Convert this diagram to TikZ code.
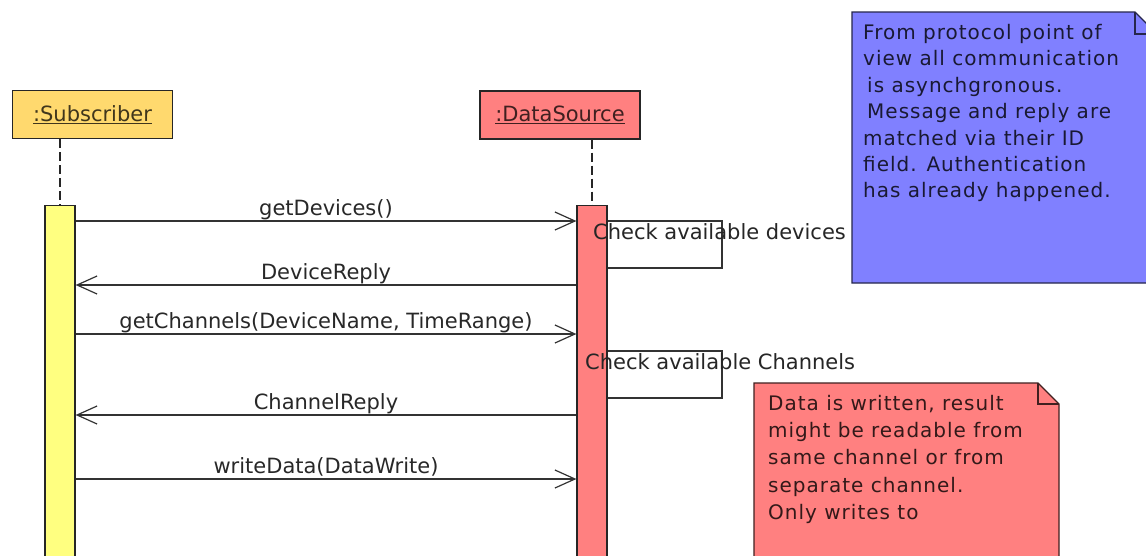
\documentclass[tikz,border=0pt]{standalone}
\usepackage{fontspec}
\setmainfont{DejaVu Sans}
\newfontfamily\notefont[LetterSpace=5]{DejaVu Sans}
\usetikzlibrary{arrows.meta}
\definecolor{subhead}{RGB}{255,217,110}
\definecolor{subbar}{RGB}{255,255,128}
\definecolor{dsred}{RGB}{255,128,128}
\definecolor{noteblue}{RGB}{128,128,255}
\definecolor{lblgray}{RGB}{40,40,40}
\begin{document}
\begin{tikzpicture}[x=1pt,y=-1pt,
  head/.style={draw=black!85, line width=1.2pt, minimum width=160pt, minimum height=48pt, inner sep=0pt, font=\fontsize{21}{24}\selectfont},
  bar/.style={draw=black!85, line width=1.2pt, minimum width=30pt, minimum height=400pt, inner sep=0pt, anchor=north},
  life/.style={line width=1.2pt, draw=black!85, dash pattern=on 9pt off 4pt},
  msg/.style={line width=1.2pt, draw=black!80, -{Straight Barb[length=20pt,width=18pt,line width=1.2pt]}},
  loopline/.style={line width=1.2pt, draw=black!80},
  lbl/.style={font=\fontsize{21}{24}\selectfont, text=lblgray, anchor=base, inner sep=0pt, yshift=5.5pt},
  chk/.style={font=\fontsize{21}{24}\selectfont, text=black!85, anchor=base west, inner sep=0pt},
  notebox/.style={line width=1.2pt, line join=miter},
  notetext/.style={anchor=north west, inner sep=0pt, align=left}
]
\fill[white] (0,0) rectangle (1146,555);
\useasboundingbox (0,0) rectangle (1146,555);
\clip (0,0) rectangle (1146,555);

% blue note
\draw[notebox, fill=noteblue, draw=noteblue!30!black] (852,12) -- (1135,12) -- (1157,34) -- (1157,283) -- (852,283) -- cycle;
\draw[notebox, draw=noteblue!30!black] (1135,12) -- (1135,34) -- (1157,34);
\node[notetext, text=noteblue!20!black, font=\notefont\fontsize{20}{26.4}\selectfont] (n1) at (863,24)
  {From protocol point of\\view all communication\\\hspace{4pt}is asynchgronous.\\\hspace{4pt}Message and reply are\\matched via their ID\\field. Authentication\\has already happened.};

% red note
\draw[notebox, fill=dsred, draw=dsred!25!black] (754,383) -- (1038,383) -- (1059,404) -- (1059,570) -- (754,570) -- cycle;
\draw[notebox, draw=dsred!25!black] (1038,383) -- (1038,404) -- (1059,404);
\node[notetext, text=dsred!20!black, font=\notefont\fontsize{20}{27.2}\selectfont] (n2) at (768,395)
  {Data is written, result\\might be readable from\\same channel or from\\separate channel.\\Only writes to};

% heads
\node[head, fill=subhead, text=subhead!25!black] (sub) at (92.5,114.5) {\underline{:Subscriber}};
\node[head, fill=dsred, text=dsred!25!black] (ds) at (560,115) {\underline{:DataSource}};

% activation bars
\node[bar, fill=subbar] (sa) at (60,205) {};
\node[bar, fill=dsred] (da) at (592,205) {};

% lifelines
\draw[life] (sa.north |- sub.south) -- (sa.north);
\draw[life] (da.north |- ds.south) -- (da.north);

% messages
\draw[msg] (sa.east |- 0,221) -- node[lbl] {getDevices()} (da.west |- 0,221);
\draw[loopline] (da.east |- 0,221) -- (722,221) -- (722,268) -- (da.east |- 0,268);
\node[chk] (c1) at (593,239) {Check available devices};

\draw[msg] (da.west |- 0,285) -- node[lbl] {DeviceReply} (sa.east |- 0,285);
\draw[msg] (sa.east |- 0,334) -- node[lbl] {getChannels(DeviceName, TimeRange)} (da.west |- 0,334);

\draw[loopline] (da.east |- 0,351) -- (722,351) -- (722,398) -- (da.east |- 0,398);
\node[chk] (c2) at (585,369) {Check available Channels};

\draw[msg] (da.west |- 0,415) -- node[lbl] {ChannelReply} (sa.east |- 0,415);
\draw[msg] (sa.east |- 0,479) -- node[lbl] {writeData(DataWrite)} (da.west |- 0,479);
\end{tikzpicture}
\end{document}
